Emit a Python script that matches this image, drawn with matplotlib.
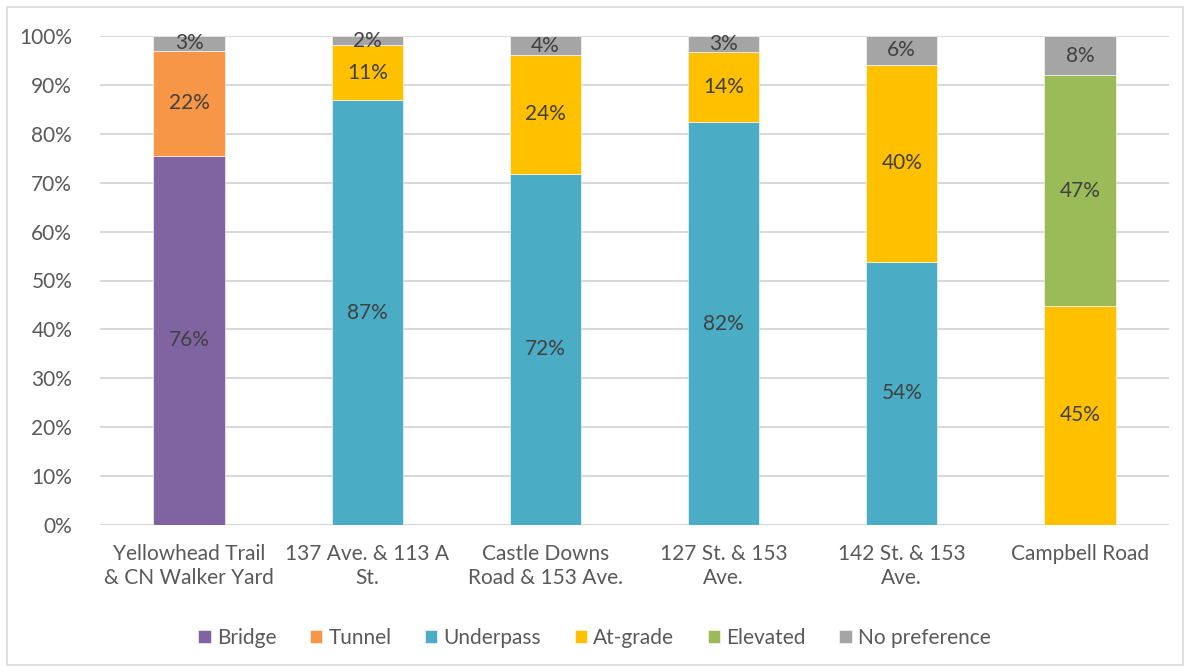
import matplotlib.pyplot as plt
import numpy as np
from matplotlib.patches import Rectangle
from matplotlib.ticker import PercentFormatter

plt.rcParams['font.family'] = ['Lato', 'DejaVu Sans']

crossings = ['Yellowhead Trail\n& CN Walker Yard', '137 Ave. & 113 A\nSt.',
             'Castle Downs\nRoad & 153 Ave.', '127 St. & 153\nAve.',
             '142 St. & 153\nAve.', 'Campbell Road']

# shares in percent, one list per option
bridge = [75.5, 0, 0, 0, 0, 0]
tunnel = [21.5, 0, 0, 0, 0, 0]
underpass = [0, 86.9, 71.8, 82.4, 53.8, 0]
at_grade = [0, 11.2, 24.3, 14.4, 40.3, 44.8]
elevated = [0, 0, 0, 0, 0, 47.2]
no_pref = [3.0, 1.9, 3.9, 3.2, 5.9, 8.0]

series = [('Bridge', bridge, '#8064A2'),
          ('Tunnel', tunnel, '#F79646'),
          ('Underpass', underpass, '#4BACC6'),
          ('At-grade', at_grade, '#FFC000'),
          ('Elevated', elevated, '#9BBB59'),
          ('No preference', no_pref, '#A5A5A5')]

fig = plt.figure(figsize=(11.89, 6.72), dpi=100)
ax = fig.add_axes([100 / 1189, 1 - 525 / 672, 1069 / 1189, 489 / 672])

# chart border
fig.patches.append(Rectangle((7 / 1189, 7 / 672), 1176 / 1189, 1 - 14 / 672,
                             transform=fig.transFigure, fill=False,
                             edgecolor='#d9d9d9', linewidth=1.2))

x = np.arange(len(crossings))
bottom = np.zeros(len(crossings))
for name, vals, color in series:
    vals = np.array(vals, dtype=float)
    bars = ax.bar(x, vals, 0.4, bottom=bottom, color=color, label=name,
                  edgecolor='white', linewidth=0.4, zorder=3)
    for xi, v, b in zip(x, vals, bottom):
        if v > 0:
            top = min(b + v, 100)
            ax.text(xi, (b + top) / 2, f'{int(v + 0.5)}%', ha='center',
                    va='center', fontsize=15, color='#404040', zorder=4)
    bottom += vals

ax.set_ylim(0, 100)
ax.set_xlim(-0.5, len(crossings) - 0.5)
ax.set_yticks(np.arange(0, 101, 10))
ax.yaxis.set_major_formatter(PercentFormatter(decimals=0))
ax.grid(axis='y', color='#d9d9d9', linewidth=1.5, zorder=0)
ax.set_xticks(x)
ax.set_xticklabels(crossings, linespacing=1.25)
ax.tick_params(length=0, labelsize=15, labelcolor='#595959', pad=14)
ax.tick_params(axis='y', pad=20)
for s in ax.spines.values():
    s.set_visible(False)

fig.legend(loc='center', bbox_to_anchor=(0.5, 1 - 638 / 672), ncol=6,
           frameon=False, fontsize=15, handlelength=0.6, handleheight=0.6,
           handletextpad=0.3, columnspacing=1.6, labelcolor='#595959')

fig.savefig('out.png', dpi=100)
